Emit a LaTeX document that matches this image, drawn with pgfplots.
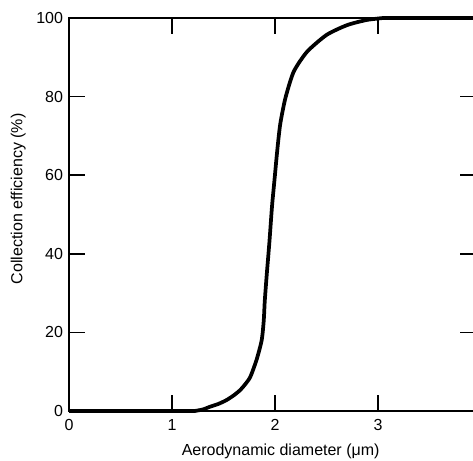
\documentclass[border=0pt]{standalone}
\usepackage{fontspec}
\setmainfont{Liberation Sans}
\usepackage{pgfplots}
\pgfplotsset{compat=1.18}

\begin{document}
\begin{tikzpicture}
\begin{axis}[
    scale only axis,
    width=305.25pt, height=294.75pt,
    xmin=0, xmax=3.95,
    ymin=0, ymax=100,
    xtick={0,1,2,3},
    ytick={0,20,40,60,80,100},
    tick align=inside,
    major tick length=12pt,
    axis line style={line width=1.5pt},
    every tick/.style={black, line width=1.2pt},
    /pgf/number format/assume math mode=true,
    tick label style={font=\fontsize{12}{14}\selectfont},
    label style={font=\fontsize{12}{14}\selectfont},
    xticklabel style={yshift=-3pt},
    yticklabel style={xshift=-1pt},
    xlabel={Aerodynamic diameter (μm)},
    ylabel={Collection efficiency (\%)},
    xlabel style={at={(axis description cs:0.52,-0.102)}, anchor=center},
    ylabel style={at={(axis description cs:-0.125,0.54)}, anchor=center},
    clip=false,
]
% flat part below the cut
\addplot[black, line width=2.8pt] coordinates {(0,0) (1.22,0)};
% rising part
\addplot[black, line width=2.8pt, smooth, tension=0.4] coordinates {
    (1.22,0) (1.30,0.4) (1.37,1.1) (1.45,1.8) (1.53,2.8)
    (1.60,4.0) (1.66,5.3) (1.71,6.8) (1.76,8.7) (1.82,13) (1.87,18)
    (1.89,23) (1.90,28) (1.92,35) (1.945,43) (1.97,52) (1.995,59)
    (2.02,66) (2.05,73) (2.10,79.6) (2.18,86.3) (2.31,91.4) (2.50,95.7)
    (2.70,98.2) (2.89,99.5) (3.05,100)
};
% plateau
\addplot[black, line width=2.8pt] coordinates {(3.05,100) (3.95,100)};
\coordinate (O) at (axis cs:0,0);
\coordinate (TR) at (axis cs:3.95,100);
\end{axis}
\pgfresetboundingbox
\path[use as bounding box] ([xshift=-51.75pt,yshift=-36.75pt]O) rectangle ([xshift=-2.25pt,yshift=13.5pt]TR);
\end{tikzpicture}
\end{document}
